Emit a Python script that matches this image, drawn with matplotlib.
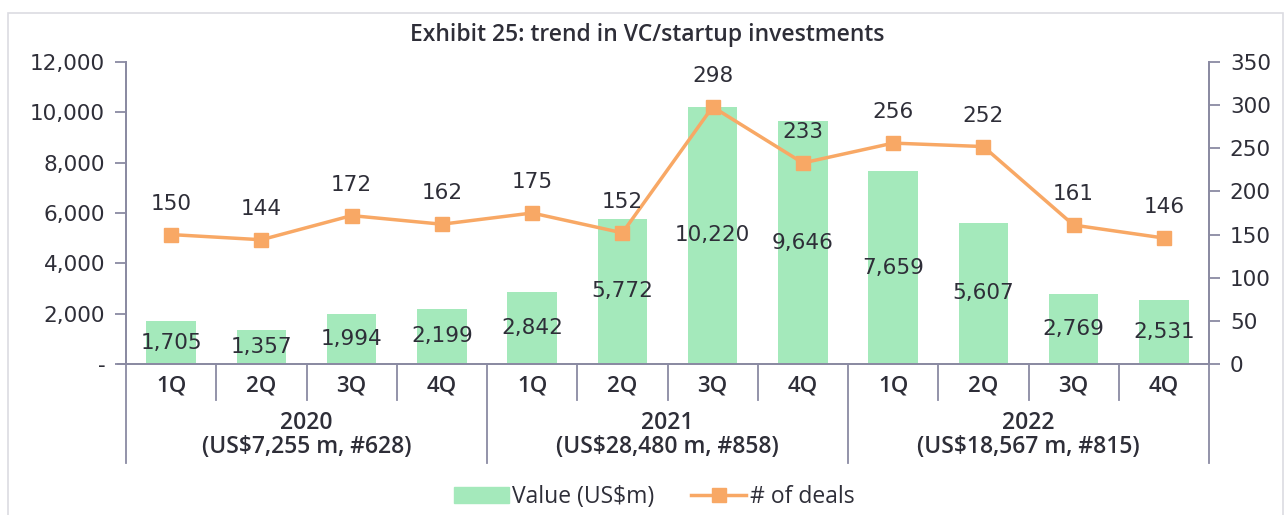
import numpy as np
import matplotlib
matplotlib.use('Agg')
import matplotlib.pyplot as plt
from matplotlib.patches import Rectangle, Patch
from matplotlib.lines import Line2D

quarters = ['1Q', '2Q', '3Q', '4Q'] * 3
years = ['2020\n(US\\$7,255 m, #628)', '2021\n(US\\$28,480 m, #858)', '2022\n(US\\$18,567 m, #815)']
value = [1705, 1357, 1994, 2199, 2842, 5772, 10220, 9646, 7659, 5607, 2769, 2531]
deals = [150, 144, 172, 162, 175, 152, 298, 233, 256, 252, 161, 146]

green = '#A4E9BB'
orange = '#F8A865'
txt = '#2E2E38'
axc = '#8A8AA2'
num_font = 'DejaVu Sans'
lab_font = 'Open Sans'

fig = plt.figure(figsize=(12.85, 5.15), dpi=100)
ax = fig.add_axes([126 / 1285, 151 / 515, 1083 / 1285, 302 / 515])
ax2 = ax.twinx()

x = np.arange(len(value))
ax.bar(x, value, width=0.55, color=green, zorder=2)
ax.set_xlim(-0.5, 11.5)
ax.set_ylim(0, 12000)
ax.set_yticks(range(0, 12001, 2000))
ax.set_yticklabels(['-'] + [f'{v:,}' for v in range(2000, 12001, 2000)],
                   fontsize=15.5, color=txt, family=num_font)
ax.set_xticks([])

for xi, v in zip(x, value):
    ax.text(xi, v / 2, f'{v:,}', ha='center', va='center', fontsize=15.5,
            color=txt, family=num_font, zorder=5)

ax2.plot(x, deals, color=orange, lw=2.5, marker='s', ms=10, zorder=3)
ax2.set_ylim(0, 350)
ax2.set_yticks(range(0, 351, 50))
ax2.set_yticklabels([str(v) for v in range(0, 351, 50)], fontsize=15.5,
                    color=txt, family=num_font)
for xi, d in zip(x, deals):
    ax2.annotate(str(d), (xi, d), xytext=(0, 31), textcoords='offset pixels',
                 ha='center', va='center', fontsize=15.5, color=txt, family=num_font)

for a in (ax, ax2):
    a.spines['top'].set_visible(False)
    for s in ('left', 'right', 'bottom'):
        a.spines[s].set_color(axc)
        a.spines[s].set_linewidth(1.3)
    a.tick_params(axis='y', color=axc, length=8, width=1.3, pad=7)
ax.patch.set_visible(False)

# hierarchical category axis
tr = ax.get_xaxis_transform()
ax.plot([-0.5 - 8 / 90.25, -0.5], [0, 0], color=axc, lw=1.3, transform=tr, clip_on=False)
for b in np.arange(0.5, 11.5, 1.0):
    if b in (3.5, 7.5):
        continue
    ax.plot([b, b], [0, -0.119], color=axc, lw=1.3, transform=tr, clip_on=False)
for b in (-0.5, 3.5, 7.5, 11.5):
    ax.plot([b, b], [0, -0.328], color=axc, lw=1.3, transform=tr, clip_on=False)
for xi, q in zip(x, quarters):
    ax.text(xi, -0.072, q, transform=tr, ha='center', va='center', fontsize=16,
            color=txt, family=lab_font, fontweight='semibold')
for i, y in enumerate(years):
    ax.text(4 * i + 1.5, -0.235, y, transform=tr, ha='center', va='center',
            fontsize=16.5, color=txt, family=lab_font, fontweight='semibold',
            linespacing=1.05)

fig.text(647 / 1285, 1 - 35 / 515, 'Exhibit 25: trend in VC/startup investments',
         ha='center', va='center', fontsize=16.5, color=txt, family=lab_font,
         fontweight='semibold')

handles = [Patch(color=green), Line2D([], [], color=orange, lw=2.5, marker='s', ms=10)]
fig.legend(handles, ['Value (US\\$m)', '# of deals'], loc='center',
           bbox_to_anchor=(654 / 1285, 1 - 497 / 515), ncol=2, frameon=False,
           prop={'family': lab_font, 'size': 16.5}, labelcolor=txt,
           handlelength=2.4, handletextpad=0.15, columnspacing=1.6)

fig.patches.append(Rectangle((8 / 1285, -0.01), 1275 / 1285, 1 - 13 / 515 + 0.01,
                             transform=fig.transFigure, fill=False,
                             edgecolor='#DCDCE2', lw=1.2))

fig.savefig('out.png', dpi=100)
